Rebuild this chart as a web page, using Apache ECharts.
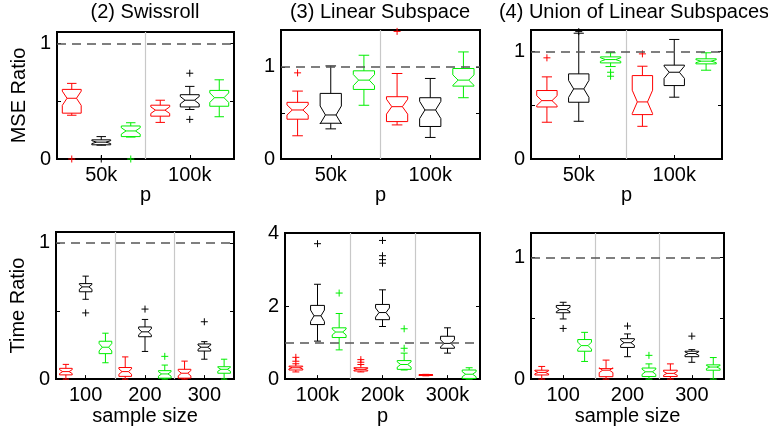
<!DOCTYPE html>
<html>
<head>
<meta charset="utf-8">
<script src="https://cdn.jsdelivr.net/npm/echarts@6/dist/echarts.min.js"></script>
<style>
  html, body { margin: 0; background: #fff; }
  #chart { width: 768px; height: 427px; }
</style>
</head>
<body>
<div id="chart"></div>
<script>
// group labels under the black (middle) box of each group
const topGroups  = ['50k', '100k'];
const sizeGroups = ['100', '200', '300'];
const pGroups    = ['100k', '200k', '300k'];

// box order inside every group: red, black, green
const methodColors = ['#ff0000', '#000000', '#00ee00'];

// each box: [slot, lower whisker, q1, median, q3, upper whisker]
const mseSwissBoxes = [
  [1, 0.379, 0.397, 0.526, 0.603, 0.655],
  [2, 0.12, 0.123, 0.146, 0.166, 0.194],
  [3, 0.19, 0.194, 0.243, 0.286, 0.314],
  [4, 0.317, 0.371, 0.423, 0.466, 0.509],
  [5, 0.429, 0.451, 0.509, 0.557, 0.629],
  [6, 0.366, 0.457, 0.531, 0.594, 0.686]
];
const mseSwissOut = [[1, 0], [2, 0], [3, 0], [5, 0.743], [5, 0.343]];

const mseLinearBoxes = [
  [1, 0.252, 0.432, 0.532, 0.615, 0.737],
  [2, 0.327, 0.388, 0.478, 0.712, 1.01],
  [3, 0.583, 0.755, 0.856, 0.957, 1.126],
  [4, 0.37, 0.406, 0.568, 0.676, 0.928],
  [5, 0.234, 0.353, 0.532, 0.665, 0.874],
  [6, 0.665, 0.791, 0.856, 0.982, 1.162]
];
const mseLinearOut = [[1, 0.935], [4, 1.385]];

const mseUnionBoxes = [
  [1, 0.342, 0.484, 0.543, 0.637, 0.764],
  [2, 0.351, 0.528, 0.652, 0.792, 1.17],
  [3, 0.86, 0.894, 0.925, 0.95, 0.988],
  [4, 0.304, 0.413, 0.531, 0.776, 0.863],
  [5, 0.575, 0.683, 0.807, 0.873, 1.112],
  [6, 0.826, 0.885, 0.91, 0.932, 0.988]
];
const mseUnionOut = [[1, 0.941], [2, 1.185], [3, 0.807], [3, 0.77], [4, 0.978]];

const timeSwissBoxes = [
  [1, 0, 0.031, 0.055, 0.079, 0.108],
  [2, 0.586, 0.641, 0.677, 0.701, 0.756],
  [3, 0.12, 0.187, 0.234, 0.278, 0.337],
  [4, 0, 0.02, 0.055, 0.085, 0.163],
  [5, 0.203, 0.311, 0.347, 0.383, 0.438],
  [6, 0, 0.007, 0.038, 0.062, 0.103],
  [7, 0, 0.007, 0.043, 0.072, 0.132],
  [8, 0.146, 0.206, 0.234, 0.258, 0.275],
  [9, 0, 0.043, 0.072, 0.091, 0.146]
];
const timeSwissOut = [[2, 0.486], [5, 0.514], [6, 0.167], [8, 0.421]];

const timeLinearBoxes = [
  [1, 0.196, 0.249, 0.311, 0.356, 0.42],
  [2, 1.04, 1.493, 1.733, 2.018, 2.596],
  [3, 0.8, 1.138, 1.289, 1.404, 1.796],
  [4, 0.196, 0.222, 0.267, 0.311, 0.4],
  [5, 1.44, 1.627, 1.822, 2.044, 2.444],
  [6, 0.249, 0.267, 0.4, 0.507, 0.711],
  [7, 0.09, 0.1, 0.116, 0.125, 0.13],
  [8, 0.711, 0.844, 0.978, 1.173, 1.404],
  [9, 0, 0.018, 0.133, 0.249, 0.311]
];
const timeLinearOut = [
  [1, 0.596], [1, 0.489], [2, 3.707], [3, 2.356], [4, 0.533], [4, 0.462],
  [5, 3.796], [5, 3.378], [5, 3.271], [5, 3.173], [6, 1.378], [6, 0.844]
];

const timeUnionBoxes = [
  [1, 0, 0.034, 0.055, 0.073, 0.104],
  [2, 0.494, 0.545, 0.571, 0.605, 0.631],
  [3, 0.145, 0.229, 0.275, 0.325, 0.384],
  [4, 0, 0.02, 0.073, 0.086, 0.156],
  [5, 0.184, 0.26, 0.299, 0.332, 0.371],
  [6, 0, 0.021, 0.06, 0.091, 0.125],
  [7, 0, 0.021, 0.047, 0.073, 0.125],
  [8, 0.138, 0.184, 0.21, 0.229, 0.242],
  [9, 0, 0.073, 0.099, 0.117, 0.177]
];
const timeUnionOut = [[2, 0.416], [5, 0.436], [6, 0.195], [8, 0.353]];

const FONT = '"Liberation Sans", Arial, sans-serif';
const textStyle = { color: '#000', fontSize: 20, fontFamily: FONT };

// notched box, MATLAB style (notch depth = half the box width)
function renderBox(params, api) {
  const slot = api.value(0);
  const lo = api.value(1), q1 = api.value(2), med = api.value(3), q3 = api.value(4), hi = api.value(5);
  const nd = 0.3 * (q3 - q1);
  const w = api.size([1, 0])[0] * 0.32;
  const x = api.coord([slot, 0])[0];
  const y = v => api.coord([slot, v])[1];
  const color = methodColors[(slot - 1) % 3];
  const line = (x1, y1, x2, y2) => ({
    type: 'line', shape: { x1, y1, x2, y2 },
    style: { stroke: color, lineWidth: 1 }
  });
  return {
    type: 'group',
    children: [
      {
        type: 'polygon',
        shape: { points: [
          [x - w, y(q3)], [x - w, y(med + nd)], [x - w / 2, y(med)], [x - w, y(med - nd)], [x - w, y(q1)],
          [x + w, y(q1)], [x + w, y(med - nd)], [x + w / 2, y(med)], [x + w, y(med + nd)], [x + w, y(q3)]
        ] },
        style: { fill: 'none', stroke: color, lineWidth: 1 }
      },
      line(x - w / 2, y(med), x + w / 2, y(med)),
      line(x, y(q3), x, y(hi)),
      line(x, y(q1), x, y(lo)),
      line(x - w / 2, y(hi), x + w / 2, y(hi)),
      line(x - w / 2, y(lo), x + w / 2, y(lo))
    ]
  };
}

function renderPlus(params, api) {
  const p = api.coord([api.value(0), api.value(1)]);
  const color = methodColors[(api.value(0) - 1) % 3];
  const s = 3.5;
  return {
    type: 'group',
    children: [
      { type: 'line', shape: { x1: p[0] - s, y1: p[1], x2: p[0] + s, y2: p[1] }, style: { stroke: color, lineWidth: 1 } },
      { type: 'line', shape: { x1: p[0], y1: p[1] - s, x2: p[0], y2: p[1] + s }, style: { stroke: color, lineWidth: 1 } }
    ]
  };
}

const panels = [
  { grid: { left: 57, top: 32, width: 177, height: 127 }, ymax: 1.1, yTicks: [0, 0.5, 1], yLabels: [0, 1],
    groups: topGroups, xName: 'p', yName: 'MSE Ratio', boxes: mseSwissBoxes, out: mseSwissOut },
  { grid: { left: 281, top: 30, width: 199, height: 129 }, ymax: 1.4, yTicks: [0, 0.5, 1], yLabels: [0, 1],
    groups: topGroups, xName: 'p', yName: '', boxes: mseLinearBoxes, out: mseLinearOut },
  { grid: { left: 531, top: 30, width: 191, height: 129 }, ymax: 1.2, yTicks: [0, 0.5, 1], yLabels: [0, 1],
    groups: topGroups, xName: 'p', yName: '', boxes: mseUnionBoxes, out: mseUnionOut },
  { grid: { left: 56, top: 232, width: 178, height: 151 }, ymax: 1.08, yTicks: [0, 0.5, 1], yLabels: [0, 1],
    groups: sizeGroups, xName: 'sample size', yName: 'Time Ratio', boxes: timeSwissBoxes, out: timeSwissOut },
  { grid: { left: 285, top: 233, width: 195, height: 150 }, ymax: 4, yTicks: [0, 2, 4], yLabels: [0, 2, 4],
    groups: pGroups, xName: 'p', yName: '', boxes: timeLinearBoxes, out: timeLinearOut },
  { grid: { left: 531, top: 233, width: 193, height: 153 }, ymax: 1.2, yTicks: [0, 0.5, 1], yLabels: [0, 1],
    groups: sizeGroups, xName: 'sample size', yName: '', boxes: timeUnionBoxes, out: timeUnionOut }
];

const grids = [], xAxes = [], yAxes = [], series = [];
panels.forEach((pn, i) => {
  const nSlots = pn.groups.length * 3;
  const centers = pn.groups.map((g, k) => k * 3 + 2);
  const seps = pn.groups.slice(1).map((g, k) => k * 3 + 3.5);
  grids.push(Object.assign({ show: true, borderColor: '#000', borderWidth: 2, backgroundColor: '#fff' }, pn.grid));
  xAxes.push({
    gridIndex: i, type: 'value', min: 0.5, max: nSlots + 0.5,
    axisLine: { lineStyle: { color: '#000', width: 2 } },
    axisTick: { inside: true, length: 4, customValues: centers, lineStyle: { color: '#000' } },
    axisLabel: Object.assign({ customValues: centers, margin: 6,
      formatter: v => pn.groups[Math.round((v - 2) / 3)] }, textStyle),
    splitLine: { show: false },
    name: pn.xName, nameLocation: 'middle', nameGap: pn.xName === 'p' ? 20 : 21, nameTextStyle: textStyle
  });
  yAxes.push({
    gridIndex: i, type: 'value', min: 0, max: pn.ymax,
    axisLine: { show: true, lineStyle: { color: '#000', width: 2 } },
    axisTick: { inside: true, length: 4, customValues: pn.yTicks, lineStyle: { color: '#000' } },
    axisLabel: Object.assign({ customValues: pn.yLabels, margin: 6 }, textStyle),
    splitLine: { show: false },
    name: pn.yName, nameLocation: 'middle', nameGap: 28, nameRotate: 90, nameTextStyle: textStyle
  });
  yAxes.push({
    gridIndex: i, type: 'value', min: 0, max: pn.ymax, position: 'right',
    axisLine: { show: true, lineStyle: { color: '#000', width: 2 } },
    axisTick: { inside: true, length: 4, customValues: pn.yTicks, lineStyle: { color: '#000' } },
    axisLabel: { show: false },
    splitLine: { show: false }
  });
  series.push({
    type: 'custom', xAxisIndex: i, yAxisIndex: i * 2, data: pn.boxes,
    renderItem: renderBox, silent: true, clip: false,
    markLine: {
      silent: true, symbol: ['none', 'none'], label: { show: false },
      data: seps.map(s => ({ xAxis: s, lineStyle: { color: '#c8c8c8', type: 'solid', width: 1.2 } }))
        .concat([{ yAxis: 1, lineStyle: { color: '#555', type: [9, 6], width: 1.6 } }])
    }
  });
  series.push({
    type: 'custom', xAxisIndex: i, yAxisIndex: i * 2, data: pn.out,
    renderItem: renderPlus, silent: true, clip: false
  });
});

const titles = [
  { text: '(2) Swissroll', left: 145 },
  { text: '(3) Linear Subspace', left: 380 },
  { text: '(4) Union of Linear Subspaces', left: 634 }
].map(t => ({
  text: t.text, left: t.left, top: 0, padding: [2, 0, 0, 0], textAlign: 'center',
  textStyle: Object.assign({ fontWeight: 'normal' }, textStyle)
}));

const chart = echarts.init(document.getElementById('chart'));
chart.setOption({
  animation: false,
  backgroundColor: '#fff',
  title: titles,
  grid: grids,
  xAxis: xAxes,
  yAxis: yAxes,
  series: series
});
</script>
</body>
</html>
